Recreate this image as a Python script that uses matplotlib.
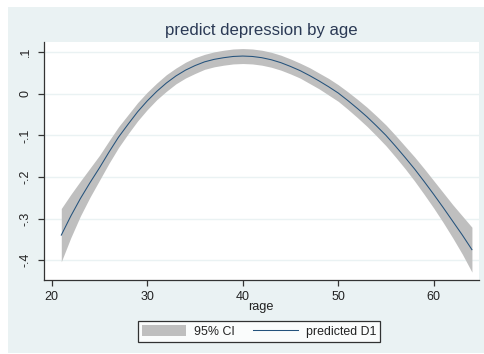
import matplotlib.pyplot as plt
import matplotlib.patches as mpatches
import numpy as np

# values (age, fitted value, 95% CI bounds)
age = np.arange(21, 65)
pred = [-0.340, -0.294, -0.252, -0.214, -0.178, -0.140, -0.104, -0.073, -0.043, -0.017,
        0.006, 0.026, 0.043, 0.057, 0.068, 0.077, 0.083, 0.087, 0.090, 0.091,
        0.090, 0.087, 0.082, 0.075, 0.066, 0.056, 0.044, 0.031, 0.017, 0.002,
        -0.016, -0.035, -0.055, -0.077, -0.100, -0.126, -0.153, -0.181, -0.211, -0.242,
        -0.274, -0.307, -0.340, -0.375]
ci_lo = [-0.404, -0.346, -0.294, -0.249, -0.208, -0.167, -0.129, -0.096, -0.065, -0.038,
         -0.014, 0.006, 0.024, 0.038, 0.049, 0.059, 0.065, 0.069, 0.072, 0.073,
         0.072, 0.069, 0.064, 0.057, 0.048, 0.038, 0.025, 0.012, -0.003, -0.018,
         -0.037, -0.057, -0.078, -0.101, -0.125, -0.152, -0.180, -0.210, -0.242, -0.275,
         -0.310, -0.347, -0.386, -0.429]
ci_hi = [-0.276, -0.242, -0.210, -0.179, -0.148, -0.113, -0.079, -0.050, -0.021, 0.004,
         0.026, 0.046, 0.062, 0.076, 0.087, 0.095, 0.101, 0.105, 0.108, 0.109,
         0.108, 0.105, 0.100, 0.093, 0.084, 0.074, 0.063, 0.050, 0.037, 0.022,
         0.005, -0.013, -0.032, -0.053, -0.075, -0.100, -0.126, -0.152, -0.180, -0.209,
         -0.238, -0.267, -0.294, -0.321]

xticks = [20, 30, 40, 50, 60]
yticks = [-0.4, -0.3, -0.2, -0.1, 0.0, 0.1]
ytick_labels = ['-.4', '-.3', '-.2', '-.1', '0', '.1']

bg = '#eaf2f3'
navy = '#24527c'
band = '#bfbfbf'
txt = '#222222'

plt.rcParams['font.family'] = ['Liberation Sans', 'DejaVu Sans']

fig = plt.figure(figsize=(4.85, 3.54), dpi=100)
fig.patch.set_facecolor('white')
fig.patches.append(mpatches.Rectangle((8 / 485, 1 / 354), 477 / 485, 346 / 354,
                                      transform=fig.transFigure, facecolor=bg,
                                      edgecolor='none', zorder=-10))

ax = fig.add_axes([44 / 485, 1 - 280 / 354, 435 / 485, 238 / 354])
ax.set_facecolor('white')

ax.fill_between(age, ci_lo, ci_hi, color=band, linewidth=0, label='95% CI', zorder=2)
ax.plot(age, pred, color=navy, linewidth=0.75, label='predicted D1', zorder=3)

ax.set_xlim(19.19, 64.74)
ax.set_ylim(-0.448, 0.1248)
ax.set_xticks(xticks)
ax.set_yticks(yticks)
ax.set_yticklabels(ytick_labels, rotation=90, va='center')
ax.grid(axis='y', color=bg, linewidth=1.0, zorder=0)
ax.set_axisbelow(True)

for s in ['top', 'right']:
    ax.spines[s].set_visible(False)
for s in ['left', 'bottom']:
    ax.spines[s].set_color('#333333')
    ax.spines[s].set_linewidth(0.9)
ax.tick_params(axis='both', direction='out', length=4, width=0.9, color='#333333',
               labelsize=9, labelcolor=txt)
ax.tick_params(axis='x', pad=4)
ax.tick_params(axis='y', pad=5)

ax.set_xlabel('rage', fontsize=9.2, color=txt)
ax.xaxis.set_label_coords(0.499, -0.126)
ax.xaxis.label.set_va('baseline')

fig.text(261.5 / 485, 1 - 35 / 354, 'predict depression by age', ha='center',
         va='baseline', fontsize=12.1, color='#2b3a55')

leg = fig.legend(loc='center', bbox_to_anchor=(259 / 485, 1 - 331.5 / 354), ncol=2,
                 fontsize=8.9, frameon=True, fancybox=False, handlelength=3.6,
                 handleheight=0.9, handletextpad=0.65, columnspacing=1.45,
                 borderpad=0.35, borderaxespad=0)
leg.get_frame().set_edgecolor('black')
leg.get_frame().set_linewidth(0.9)
leg.get_frame().set_facecolor('white')
for t in leg.get_texts():
    t.set_color(txt)

fig.savefig('out.png', dpi=100, facecolor=fig.get_facecolor())
